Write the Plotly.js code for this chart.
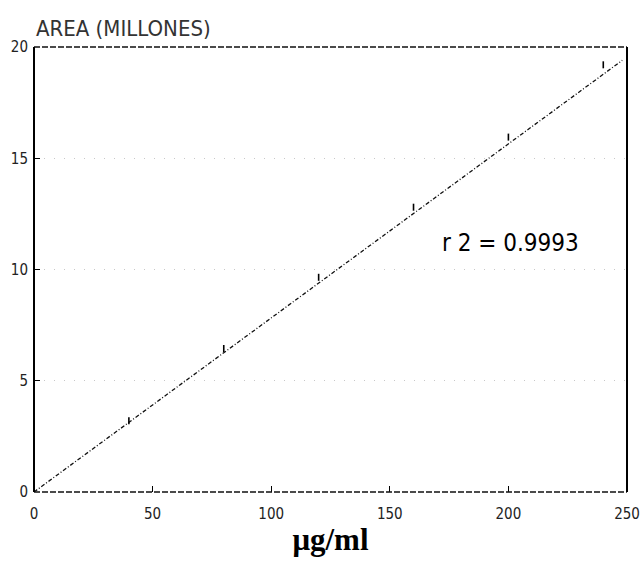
<!DOCTYPE html>
<html>
<head>
<meta charset="utf-8">
<script src="https://cdn.plot.ly/plotly-3.0.1.min.js"></script>
<style>html,body{margin:0;padding:0;background:#fff;}#chart{width:644px;height:564px;}</style>
</head>
<body>
<div id="chart"></div>
<script>
// Calibration standards (µg/ml) and peak area (millions)
var concentration = [0, 40, 80, 120, 160, 200, 240];
var areaMillions = [0, 3.2, 6.45, 9.65, 12.8, 15.95, 19.2];
// Regression line endpoints
var fitX = [0, 248];
var fitY = [0, 19.4];
var xTicks = [0, 50, 100, 150, 200, 250];
var yTicks = [0, 5, 10, 15, 20];
var rLabel = 'r 2 = 0.9993';

var traces = [
  {x: fitX, y: fitY, mode: 'lines', type: 'scatter',
   line: {color: '#111', width: 1.3, dash: '4px,2px,1px,2px'}, hoverinfo: 'skip'},
  {x: concentration, y: areaMillions, mode: 'markers', type: 'scatter',
   marker: {symbol: 'line-ns-open', size: 5, color: '#000', line: {color: '#000', width: 1.6}}}
];

var narrow = 'DejaVu Sans Condensed, Liberation Sans Narrow, Arial Narrow, Liberation Sans, sans-serif';
var tickFont = {family: narrow, size: 15, color: '#222'};

var layout = {
  width: 644, height: 564,
  margin: {l: 34, r: 17, t: 47, b: 72},
  paper_bgcolor: '#fff', plot_bgcolor: '#fff',
  showlegend: false,
  xaxis: {
    range: [0, 250], tickvals: xTicks, ticktext: xTicks.map(String),
    ticks: 'inside', ticklen: 6, tickcolor: '#000', tickwidth: 1.3,
    showgrid: false, zeroline: false, showline: false,
    tickfont: tickFont, ticklabelstandoff: 11,
    title: {text: '<b>μg/ml</b>', font: {family: 'Liberation Serif, Times New Roman, serif', size: 31, color: '#000'}, standoff: 6}
  },
  yaxis: {
    range: [0, 20], tickvals: yTicks, ticktext: yTicks.map(String),
    ticks: 'inside', ticklen: 6, tickcolor: '#000', tickwidth: 1.3,
    showgrid: true, gridcolor: '#c8c8c8', griddash: '1px,9px', gridwidth: 1,
    zeroline: false, showline: false,
    tickfont: tickFont, ticklabelstandoff: 5
  },
  shapes: [
    {type: 'line', xref: 'paper', yref: 'paper', x0: 0, x1: 1, y0: 1, y1: 1, line: {color: '#111', width: 1.5, dash: '6px,2px'}},
    {type: 'line', xref: 'paper', yref: 'paper', x0: 0, x1: 1, y0: 0, y1: 0, line: {color: '#111', width: 1.5, dash: '6px,2px'}},
    {type: 'line', xref: 'paper', yref: 'paper', x0: 0, x1: 0, y0: 0, y1: 1, line: {color: '#000', width: 2}},
    {type: 'line', xref: 'paper', yref: 'paper', x0: 1, x1: 1, y0: 0, y1: 1, line: {color: '#000', width: 2}}
  ],
  annotations: [
    {text: 'AREA (MILLONES)', xref: 'paper', yref: 'paper', x: 0, y: 1, xanchor: 'left', yanchor: 'bottom', yshift: 4, showarrow: false,
     font: {family: narrow, size: 22, color: '#333'}},
    {text: rLabel, xref: 'x', yref: 'y', x: 171, y: 11.2, xanchor: 'left', yanchor: 'middle', showarrow: false,
     font: {family: narrow, size: 24, color: '#000'}}
  ]
};

Plotly.newPlot('chart', traces, layout, {displayModeBar: false, staticPlot: true});
</script>
</body>
</html>
